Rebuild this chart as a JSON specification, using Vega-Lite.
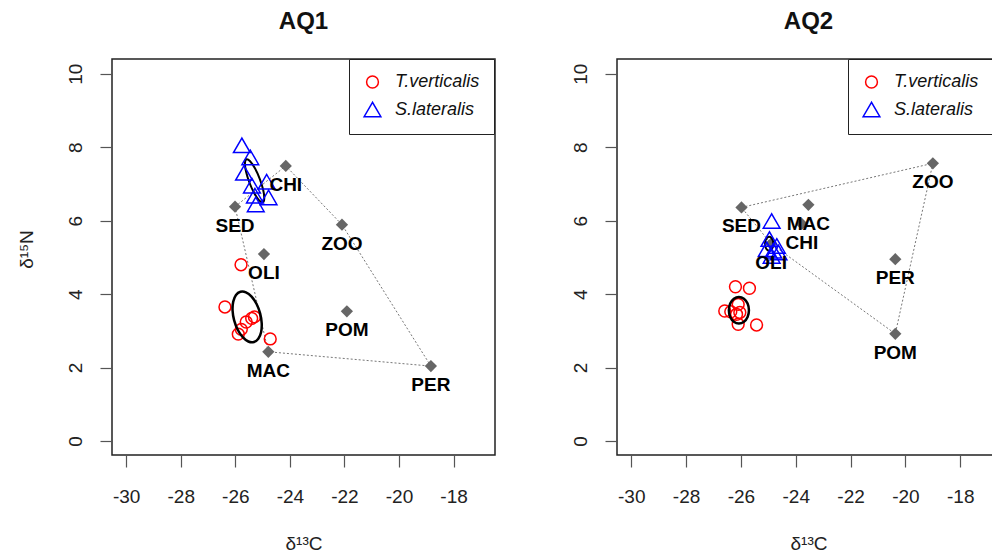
{
  "$schema": "https://vega.github.io/schema/vega-lite/v6.json",
  "background": "white",
  "padding": {"left": 16, "top": 8, "right": 0, "bottom": 0},
  "bounds": "flush",
  "spacing": 122,
  "config": {
    "font": "Liberation Sans",
    "view": {"stroke": "#222", "strokeWidth": 1.5},
    "axis": {"grid": false, "domain": false, "tickColor": "#555", "tickSize": 12, "tickWidth": 1.2, "labelColor": "#222", "labelFontSize": 19, "labelFont": "Liberation Sans", "titleFont": "Liberation Sans", "titleFontSize": 19, "titleFontWeight": "normal", "titleColor": "#222", "labelOverlap": false, "labelFlush": false},
    "legend": {"labelFontSize": 18, "labelFontStyle": "italic", "labelFont": "Liberation Sans", "labelColor": "#111", "symbolSize": 80, "symbolStrokeWidth": 1.5, "padding": 14, "rowPadding": 8, "labelOffset": 13, "strokeColor": "#222", "fillColor": "white"}
  },
  "datasets": {
    "src1": [
      {"s": "SED", "x": -26.01, "y": 6.38},
      {"s": "CHI", "x": -24.15, "y": 7.49},
      {"s": "ZOO", "x": -22.09, "y": 5.89},
      {"s": "OLI", "x": -24.95, "y": 5.09},
      {"s": "POM", "x": -21.91, "y": 3.53},
      {"s": "MAC", "x": -24.79, "y": 2.43},
      {"s": "PER", "x": -18.83, "y": 2.04}
    ],
    "hull1": [
      {"i": 1, "x": -26.01, "y": 6.38},
      {"i": 2, "x": -24.15, "y": 7.49},
      {"i": 3, "x": -22.09, "y": 5.89},
      {"i": 4, "x": -18.83, "y": 2.04},
      {"i": 5, "x": -24.79, "y": 2.43}
    ],
    "cons1": [
      {"sp": "T.verticalis", "x": -25.79, "y": 4.80},
      {"sp": "T.verticalis", "x": -26.38, "y": 3.65},
      {"sp": "T.verticalis", "x": -25.40, "y": 3.34},
      {"sp": "T.verticalis", "x": -25.30, "y": 3.38},
      {"sp": "T.verticalis", "x": -25.60, "y": 3.24},
      {"sp": "T.verticalis", "x": -25.78, "y": 3.04},
      {"sp": "T.verticalis", "x": -25.89, "y": 2.91},
      {"sp": "T.verticalis", "x": -24.72, "y": 2.78},
      {"sp": "S.lateralis", "x": -25.76, "y": 8.05},
      {"sp": "S.lateralis", "x": -25.45, "y": 7.72},
      {"sp": "S.lateralis", "x": -25.68, "y": 7.30},
      {"sp": "S.lateralis", "x": -24.85, "y": 7.06},
      {"sp": "S.lateralis", "x": -25.39, "y": 6.95},
      {"sp": "S.lateralis", "x": -25.28, "y": 6.68},
      {"sp": "S.lateralis", "x": -24.78, "y": 6.63},
      {"sp": "S.lateralis", "x": -25.25, "y": 6.44}
    ],
    "ell1T": [
      {"e": "T", "i": 0, "x": -25.320, "y": 2.694},
      {"e": "T", "i": 1, "x": -25.157, "y": 2.783},
      {"e": "T", "i": 2, "x": -25.055, "y": 2.962},
      {"e": "T", "i": 3, "x": -25.032, "y": 3.205},
      {"e": "T", "i": 4, "x": -25.090, "y": 3.474},
      {"e": "T", "i": 5, "x": -25.220, "y": 3.729},
      {"e": "T", "i": 6, "x": -25.403, "y": 3.930},
      {"e": "T", "i": 7, "x": -25.611, "y": 4.048},
      {"e": "T", "i": 8, "x": -25.811, "y": 4.063},
      {"e": "T", "i": 9, "x": -25.975, "y": 3.975},
      {"e": "T", "i": 10, "x": -26.076, "y": 3.795},
      {"e": "T", "i": 11, "x": -26.100, "y": 3.553},
      {"e": "T", "i": 12, "x": -26.042, "y": 3.283},
      {"e": "T", "i": 13, "x": -25.911, "y": 3.029},
      {"e": "T", "i": 14, "x": -25.728, "y": 2.828},
      {"e": "T", "i": 15, "x": -25.521, "y": 2.710}
    ],
    "ell1S": [
      {"e": "S", "i": 0, "x": -24.992, "y": 6.499},
      {"e": "S", "i": 1, "x": -24.938, "y": 6.605},
      {"e": "S", "i": 2, "x": -24.979, "y": 6.838},
      {"e": "S", "i": 3, "x": -25.104, "y": 7.138},
      {"e": "S", "i": 4, "x": -25.280, "y": 7.424},
      {"e": "S", "i": 5, "x": -25.458, "y": 7.618},
      {"e": "S", "i": 6, "x": -25.592, "y": 7.670},
      {"e": "S", "i": 7, "x": -25.646, "y": 7.564},
      {"e": "S", "i": 8, "x": -25.605, "y": 7.330},
      {"e": "S", "i": 9, "x": -25.480, "y": 7.031},
      {"e": "S", "i": 10, "x": -25.304, "y": 6.745},
      {"e": "S", "i": 11, "x": -25.126, "y": 6.551}
    ],
    "src2": [
      {"s": "SED", "x": -25.98, "y": 6.36},
      {"s": "ZOO", "x": -19.00, "y": 7.56},
      {"s": "MAC", "x": -23.54, "y": 6.43},
      {"s": "CHI", "x": -23.78, "y": 5.91},
      {"s": "OLI", "x": -24.90, "y": 5.37},
      {"s": "PER", "x": -20.37, "y": 4.95},
      {"s": "POM", "x": -20.37, "y": 2.92}
    ],
    "hull2": [
      {"i": 1, "x": -25.98, "y": 6.36},
      {"i": 2, "x": -19.00, "y": 7.56},
      {"i": 3, "x": -20.37, "y": 2.92},
      {"i": 4, "x": -24.90, "y": 5.37}
    ],
    "cons2": [
      {"sp": "T.verticalis", "x": -26.20, "y": 4.20},
      {"sp": "T.verticalis", "x": -25.69, "y": 4.16},
      {"sp": "T.verticalis", "x": -26.59, "y": 3.54},
      {"sp": "T.verticalis", "x": -26.37, "y": 3.52},
      {"sp": "T.verticalis", "x": -26.10, "y": 3.72},
      {"sp": "T.verticalis", "x": -26.04, "y": 3.50},
      {"sp": "T.verticalis", "x": -26.16, "y": 3.45},
      {"sp": "T.verticalis", "x": -26.10, "y": 3.18},
      {"sp": "T.verticalis", "x": -25.43, "y": 3.16},
      {"sp": "S.lateralis", "x": -24.88, "y": 5.99},
      {"sp": "S.lateralis", "x": -24.96, "y": 5.50},
      {"sp": "S.lateralis", "x": -24.69, "y": 5.31},
      {"sp": "S.lateralis", "x": -25.06, "y": 5.22},
      {"sp": "S.lateralis", "x": -24.82, "y": 5.18},
      {"sp": "S.lateralis", "x": -24.63, "y": 5.13},
      {"sp": "S.lateralis", "x": -24.88, "y": 5.04}
    ],
    "ell2T": [
      {"e": "T", "i": 0, "x": -25.708, "y": 3.561},
      {"e": "T", "i": 1, "x": -25.757, "y": 3.742},
      {"e": "T", "i": 2, "x": -25.891, "y": 3.874},
      {"e": "T", "i": 3, "x": -26.074, "y": 3.923},
      {"e": "T", "i": 4, "x": -26.257, "y": 3.874},
      {"e": "T", "i": 5, "x": -26.391, "y": 3.742},
      {"e": "T", "i": 6, "x": -26.440, "y": 3.561},
      {"e": "T", "i": 7, "x": -26.391, "y": 3.380},
      {"e": "T", "i": 8, "x": -26.257, "y": 3.248},
      {"e": "T", "i": 9, "x": -26.074, "y": 3.199},
      {"e": "T", "i": 10, "x": -25.891, "y": 3.248},
      {"e": "T", "i": 11, "x": -25.757, "y": 3.380}
    ],
    "ell2S": [
      {"e": "S", "i": 0, "x": -24.820, "y": 5.370},
      {"e": "S", "i": 1, "x": -24.840, "y": 5.465},
      {"e": "S", "i": 2, "x": -24.895, "y": 5.535},
      {"e": "S", "i": 3, "x": -24.970, "y": 5.560},
      {"e": "S", "i": 4, "x": -25.045, "y": 5.535},
      {"e": "S", "i": 5, "x": -25.100, "y": 5.465},
      {"e": "S", "i": 6, "x": -25.120, "y": 5.370},
      {"e": "S", "i": 7, "x": -25.100, "y": 5.275},
      {"e": "S", "i": 8, "x": -25.045, "y": 5.205},
      {"e": "S", "i": 9, "x": -24.970, "y": 5.180},
      {"e": "S", "i": 10, "x": -24.895, "y": 5.205},
      {"e": "S", "i": 11, "x": -24.840, "y": 5.275}
    ]
  },
  "resolve": {
    "scale": {"x": "independent", "y": "independent", "color": "independent", "shape": "independent", "size": "independent"},
    "legend": {"color": "independent", "shape": "independent"}
  },
  "hconcat": [
    {
      "width": 383,
      "height": 396,
      "title": {"text": "AQ1", "fontSize": 24, "fontWeight": "bold", "frame": "group", "anchor": "middle", "baseline": "alphabetic", "offset": 6, "color": "#111"},
      "encoding": {
        "x": {"field": "x", "type": "quantitative", "scale": {"domain": [-30.52, -16.48], "nice": false, "zero": false},
          "axis": {"values": [-30, -28, -26, -24, -22, -20, -18], "labelExpr": "'' + datum.value", "labelPadding": 20, "title": "δ¹³C", "titleX": 191.5, "titleY": 88, "titleBaseline": "middle", "titleAlign": "center"}},
        "y": {"field": "y", "type": "quantitative", "scale": {"domain": [-0.38, 10.4], "nice": false, "zero": false},
          "axis": {"values": [0, 2, 4, 6, 8, 10], "labelExpr": "'' + datum.value", "labelAngle": -90, "labelAlign": "center", "labelBaseline": "bottom", "labelPadding": 15, "title": "δ¹⁵N", "titleAngle": -90, "titleX": -86, "titleY": 190, "titleBaseline": "middle", "titleAlign": "center"}}
      },
      "layer": [
        {"data": {"name": "hull1"}, "mark": {"type": "line", "interpolate": "linear-closed", "strokeDash": [2, 2], "color": "#777", "strokeWidth": 1}, "encoding": {"order": {"field": "i", "type": "quantitative"}}},
        {"data": {"name": "src1"}, "mark": {"type": "point", "shape": "diamond", "filled": true, "color": "#666", "size": 150, "opacity": 1}},
        {"data": {"name": "ell1S"}, "mark": {"type": "line", "interpolate": "cardinal-closed", "color": "#000", "strokeWidth": 2}, "encoding": {"detail": {"field": "e"}, "order": {"field": "i", "type": "quantitative"}}},
        {"data": {"name": "cons1"}, "mark": {"type": "point", "filled": false, "strokeWidth": 1.5, "opacity": 1},
          "encoding": {
            "color": {"field": "sp", "type": "nominal", "scale": {"domain": ["T.verticalis", "S.lateralis"], "range": ["#FF0000", "#0000FF"]}, "legend": {"orient": "none", "legendX": 237, "legendY": 0, "title": null}},
            "shape": {"field": "sp", "type": "nominal", "scale": {"domain": ["T.verticalis", "S.lateralis"], "range": ["circle", "triangle-up"]}, "legend": {"orient": "none", "legendX": 237, "legendY": 0, "title": null}},
            "size": {"field": "sp", "type": "nominal", "scale": {"domain": ["T.verticalis", "S.lateralis"], "range": [140, 280]}, "legend": null}
          }},
        {"data": {"name": "src1"}, "mark": {"type": "text", "fontWeight": "bold", "fontSize": 19, "dy": 19, "color": "#000", "baseline": "middle", "align": "center"}, "encoding": {"text": {"field": "s"}}},
        {"data": {"name": "ell1T"}, "mark": {"type": "line", "interpolate": "cardinal-closed", "color": "#000", "strokeWidth": 2.5}, "encoding": {"detail": {"field": "e"}, "order": {"field": "i", "type": "quantitative"}}}
      ]
    },
    {
      "width": 377,
      "height": 396,
      "title": {"text": "AQ2", "fontSize": 24, "fontWeight": "bold", "frame": "group", "anchor": "middle", "baseline": "alphabetic", "offset": 6, "color": "#111", "dx": 3},
      "encoding": {
        "x": {"field": "x", "type": "quantitative", "scale": {"domain": [-30.52, -16.77], "nice": false, "zero": false},
          "axis": {"values": [-30, -28, -26, -24, -22, -20, -18], "labelExpr": "'' + datum.value", "labelPadding": 20, "title": "δ¹³C", "titleX": 191.5, "titleY": 88, "titleBaseline": "middle", "titleAlign": "center"}},
        "y": {"field": "y", "type": "quantitative", "scale": {"domain": [-0.38, 10.4], "nice": false, "zero": false},
          "axis": {"values": [0, 2, 4, 6, 8, 10], "labelExpr": "'' + datum.value", "labelAngle": -90, "labelAlign": "center", "labelBaseline": "bottom", "labelPadding": 15, "title": null}}
      },
      "layer": [
        {"data": {"name": "hull2"}, "mark": {"type": "line", "interpolate": "linear-closed", "strokeDash": [2, 2], "color": "#777", "strokeWidth": 1}, "encoding": {"order": {"field": "i", "type": "quantitative"}}},
        {"data": {"name": "src2"}, "mark": {"type": "point", "shape": "diamond", "filled": true, "color": "#666", "size": 150, "opacity": 1}},
        {"data": {"name": "ell2S"}, "mark": {"type": "line", "interpolate": "cardinal-closed", "color": "#000", "strokeWidth": 2}, "encoding": {"detail": {"field": "e"}, "order": {"field": "i", "type": "quantitative"}}},
        {"data": {"name": "cons2"}, "mark": {"type": "point", "filled": false, "strokeWidth": 1.5, "opacity": 1},
          "encoding": {
            "color": {"field": "sp", "type": "nominal", "scale": {"domain": ["T.verticalis", "S.lateralis"], "range": ["#FF0000", "#0000FF"]}, "legend": {"orient": "none", "legendX": 231, "legendY": 0, "title": null}},
            "shape": {"field": "sp", "type": "nominal", "scale": {"domain": ["T.verticalis", "S.lateralis"], "range": ["circle", "triangle-up"]}, "legend": {"orient": "none", "legendX": 231, "legendY": 0, "title": null}},
            "size": {"field": "sp", "type": "nominal", "scale": {"domain": ["T.verticalis", "S.lateralis"], "range": [140, 280]}, "legend": null}
          }},
        {"data": {"name": "src2"}, "mark": {"type": "text", "fontWeight": "bold", "fontSize": 19, "dy": 19, "color": "#000", "baseline": "middle", "align": "center"}, "encoding": {"text": {"field": "s"}}},
        {"data": {"name": "ell2T"}, "mark": {"type": "line", "interpolate": "cardinal-closed", "color": "#000", "strokeWidth": 2.5}, "encoding": {"detail": {"field": "e"}, "order": {"field": "i", "type": "quantitative"}}}
      ]
    }
  ]
}
